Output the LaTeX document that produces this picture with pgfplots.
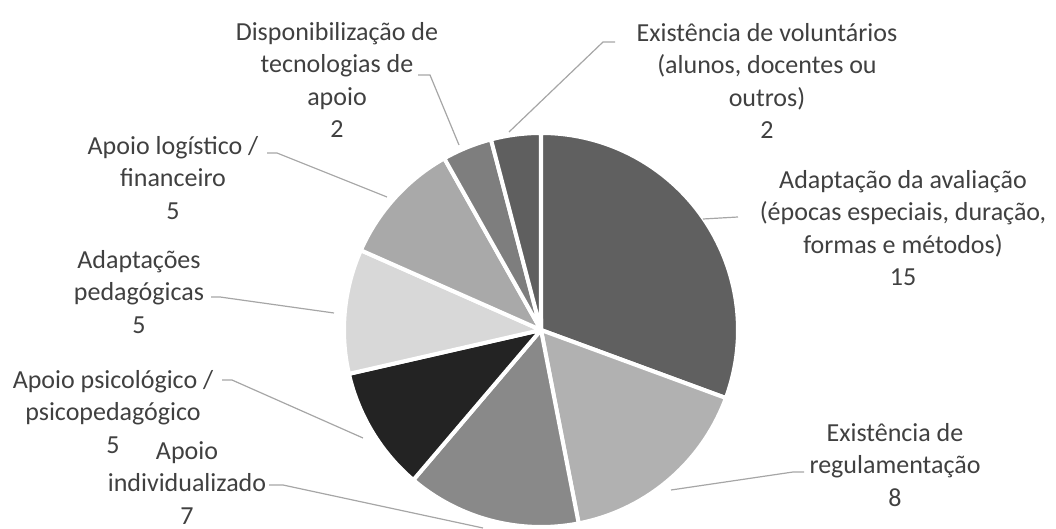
\documentclass[border=0pt]{standalone}
\usepackage{pgfplots}
\pgfplotsset{compat=1.18}
\usepackage{fontspec}
\setmainfont{Carlito}
\definecolor{c1}{HTML}{606060}
\definecolor{c2}{HTML}{B1B1B1}
\definecolor{c3}{HTML}{898989}
\definecolor{c4}{HTML}{232323}
\definecolor{c5}{HTML}{D8D8D8}
\definecolor{c6}{HTML}{A9A9A9}
\definecolor{c7}{HTML}{7E7E7E}
\definecolor{c8}{HTML}{5F5F5F}
\definecolor{txt}{HTML}{404040}
\definecolor{lead}{HTML}{A6A6A6}
\begin{document}
\begin{tikzpicture}
\begin{axis}[scale only axis, width=528pt, height=264.5pt,
  xmin=0, xmax=1056, ymin=0, ymax=529, y dir=reverse,
  hide axis, clip=false]
% slices: value/colour, clockwise from 12 o'clock, total 49
\def\total{49}
\foreach \v/\c [remember=\e as \s (initially 90)] in
  {15/c1, 8/c2, 7/c3, 5/c4, 5/c5, 5/c6, 2/c7, 2/c8} {
  \pgfmathsetmacro\e{\s-\v/\total*360}
  \edef\temp{\noexpand\fill[\c, draw=white, line width=2pt, line join=round]
    (axis cs:541,330) -- ++(\s:98.5pt) arc[start angle=\s, end angle=\e, radius=98.5pt] -- cycle;}
  \temp
}
% leader lines
\begin{scope}[lead, line width=0.6pt]
\draw (axis cs:418,75) -- (axis cs:430,75) -- (axis cs:459,145);
\draw (axis cs:615,42) -- (axis cs:603,42) -- (axis cs:509,132);
\draw (axis cs:738,217) -- (axis cs:703,219);
\draw (axis cs:804,472) -- (axis cs:793,472) -- (axis cs:671,490);
\draw (axis cs:269,485) -- (axis cs:283,485) -- (axis cs:483,528);
\draw (axis cs:222,380) -- (axis cs:232,380) -- (axis cs:363,438);
\draw (axis cs:211,297) -- (axis cs:220,297) -- (axis cs:334,313);
\draw (axis cs:267,153) -- (axis cs:277,153) -- (axis cs:387,197);
\end{scope}
% labels
\begin{scope}[every node/.style={align=center, inner sep=0pt, text=txt,
   font=\fontsize{13pt}{16.25pt}\selectfont}]
\node at (axis cs:337,80) {Disponibilização de\\tecnologias de\\apoio\\2};
\node at (axis cs:767,81) {Existência de voluntários\\(alunos, docentes ou\\outros)\\2};
\node at (axis cs:903,228) {Adaptação da avaliação\\(épocas especiais, duração,\\formas e métodos)\\15};
\node at (axis cs:895,465) {Existência de\\regulamentação\\8};
\node at (axis cs:187,483) {Apoio\\individualizado\\7};
\node at (axis cs:113,412) {Apoio psicológico /\\psicopedagógico\\5};
\node at (axis cs:139,292) {Adaptações\\pedagógicas\\5};
\node at (axis cs:173,178) {Apoio logístico /\\financeiro\\5};
\end{scope}
\end{axis}
\pgfresetboundingbox
\path (current axis.south west) rectangle (current axis.north east);
\end{tikzpicture}
\end{document}
